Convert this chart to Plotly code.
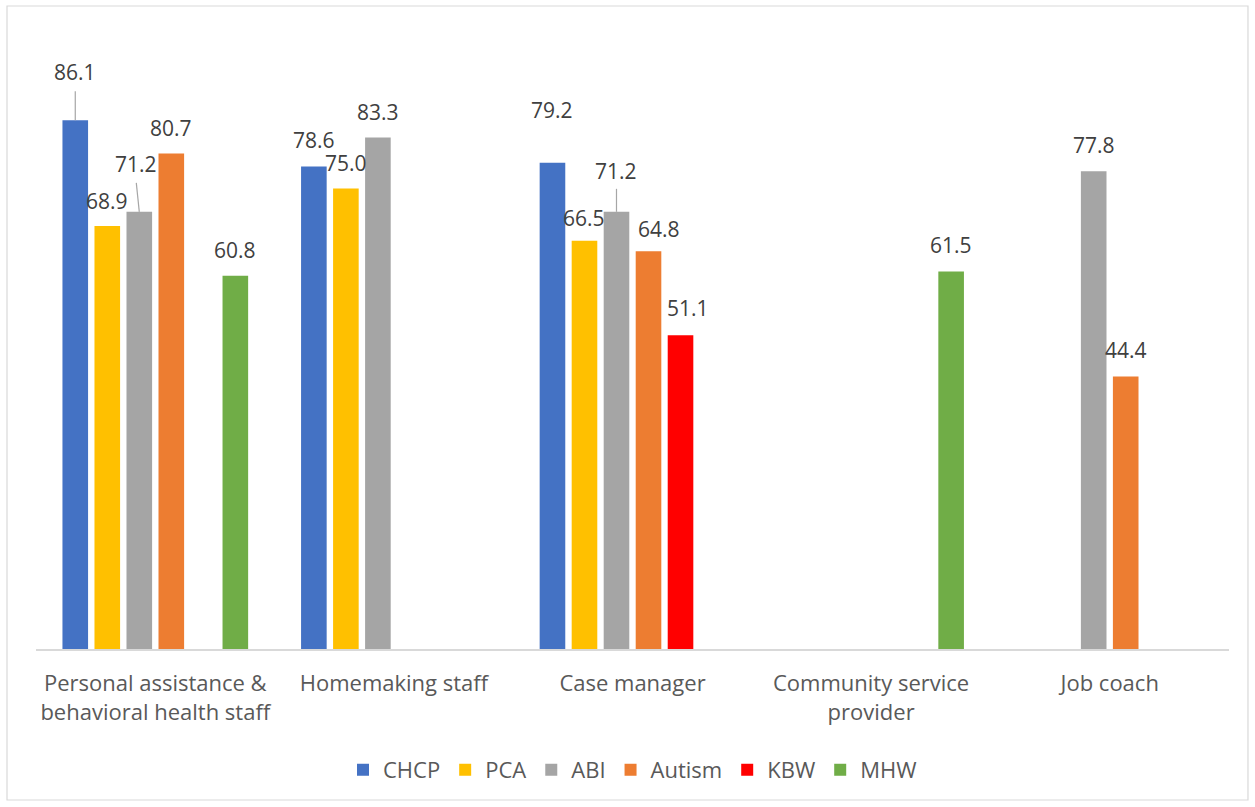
import plotly.graph_objects as go

# Worker type categories and survey series
categories = [
    "Personal assistance &<br>behavioral health staff",
    "Homemaking staff",
    "Case manager",
    "Community service<br>provider",
    "Job coach",
]
series_names = ["CHCP", "PCA", "ABI", "Autism", "KBW", "MHW"]
chcp = [86.1, 78.6, 79.2, None, None]
pca = [68.9, 75.0, 66.5, None, None]
abi = [71.2, 83.3, 71.2, None, 77.8]
autism = [80.7, None, 64.8, None, 44.4]
kbw = [None, None, 51.1, None, None]
mhw = [60.8, None, None, 61.5, None]
series_values = [chcp, pca, abi, autism, kbw, mhw]

colors = ["#4472C4", "#FFC000", "#A5A5A5", "#ED7D31", "#FF0000", "#70AD47"]

# Label placement tweaks (pixels): (series, category) -> (xshift, yshift, leader length, leader dx)
label_style = {
    (0, 0): (0, 32, 29, 0),
    (2, 0): (-3, 32, 29, -3),
    (0, 2): (0, 37, 0, 0),
    (2, 2): (0, 25, 23, 0),
    (3, 2): (10, 6, 0, 0),
    (4, 2): (7, 11, 0, 0),
    (1, 2): (0, 7, 0, 0),
    (1, 0): (0, 9, 0, 0),
}
default_style = (0, 10, 0, 0)

BARGAP = 0.195
n_series = len(series_names)
slot = (1 - BARGAP) / n_series

fig = go.Figure()
for name, vals, col in zip(series_names, series_values, colors):
    fig.add_trace(go.Bar(
        name=name,
        x=list(range(len(categories))),
        y=vals,
        marker=dict(color=col, line=dict(width=0)),
        hoverinfo="skip",
    ))

annotations = []
shapes = []
for k, vals in enumerate(series_values):
    for i, v in enumerate(vals):
        if v is None:
            continue
        xc = i - (1 - BARGAP) / 2 + (k + 0.5) * slot
        xs, ys, lead, ldx = label_style.get((k, i), default_style)
        annotations.append(dict(
            x=xc, y=v, xref="x", yref="y",
            text=f"{v:.1f}", showarrow=False,
            xanchor="center", yanchor="bottom",
            xshift=xs, yshift=ys,
            font=dict(family="Open Sans", size=21, color="#404040"),
        ))
        if lead:
            shapes.append(dict(
                type="line", xref="x", yref="y",
                xsizemode="pixel", ysizemode="pixel",
                xanchor=xc, yanchor=v,
                x0=0, x1=ldx, y0=0, y1=lead,
                line=dict(color="#A6A6A6", width=1.2),
            ))

# Outer chart border
shapes.append(dict(
    type="rect", xref="paper", yref="paper",
    x0=-0.0243, x1=1.0159, y0=-0.2459, y1=1.0472,
    line=dict(color="#D9D9D9", width=1.2), fillcolor="rgba(0,0,0,0)",
    layer="below",
))

fig.update_layout(
    width=1255, height=807,
    margin=dict(l=36, r=26, t=35, b=158),
    paper_bgcolor="white", plot_bgcolor="white",
    barmode="group", bargap=BARGAP, bargroupgap=0.2,
    font=dict(family="Open Sans", size=22, color="#595959"),
    showlegend=True,
    legend=dict(
        orientation="h", x=0.5, xanchor="center", y=-0.197, yanchor="middle",
        font=dict(family="Open Sans", size=22, color="#595959"),
        itemwidth=30, traceorder="normal",
    ),
    xaxis=dict(
        tickmode="array", tickvals=list(range(len(categories))), ticktext=categories,
        range=[-0.5, len(categories) - 0.5],
        showline=True, linecolor="#D9D9D9", linewidth=2,
        showgrid=False, zeroline=False, ticks="", ticklabelstandoff=14,
        tickfont=dict(family="Open Sans", size=22, color="#595959"),
        fixedrange=True,
    ),
    yaxis=dict(range=[0, 100], visible=False, fixedrange=True),
    annotations=annotations,
    shapes=shapes,
)

fig.write_html("out.html")
